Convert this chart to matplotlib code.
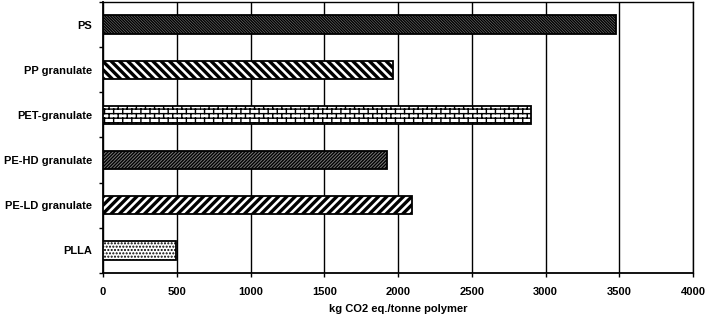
import warnings
import numpy as np
import matplotlib
matplotlib.use('Agg')
import matplotlib.pyplot as plt
import matplotlib.hatch as mhatch
from matplotlib.path import Path

warnings.filterwarnings('ignore')

# data, top to bottom as in the chart
polymers = ['PS', 'PP granulate', 'PET-granulate', 'PE-HD granulate', 'PE-LD granulate', 'PLLA']
co2 = [3480, 1965, 2900, 1925, 2095, 495]
xticks = [0, 500, 1000, 1500, 2000, 2500, 3000, 3500, 4000]


# brick pattern for the PET bar (matplotlib has no brick hatch)
class BrickHatch(mhatch.HatchPatternBase):
    def __init__(self, hatch, density):
        n = hatch.count('b')
        self.rows = 22 * n
        self.cols = 11 * n
        self.num_vertices = (self.rows + self.rows * self.cols) * 2 if n else 0

    def set_vertices_and_codes(self, vertices, codes):
        k = 0
        for i in range(self.rows):
            y0 = i / self.rows
            y1 = (i + 1) / self.rows
            vertices[k] = (0, y0); vertices[k + 1] = (1, y0)
            codes[k] = Path.MOVETO; codes[k + 1] = Path.LINETO
            k += 2
            off = 0.5 * (i % 2)
            for j in range(self.cols):
                x = (j + off) / self.cols
                vertices[k] = (x, y0); vertices[k + 1] = (x, y1)
                codes[k] = Path.MOVETO; codes[k + 1] = Path.LINETO
                k += 2


mhatch._hatch_types.append(BrickHatch)

plt.rcParams['font.family'] = ['Liberation Sans', 'DejaVu Sans']
plt.rcParams['font.weight'] = 'bold'
plt.rcParams['font.size'] = 8

# style per bar: (hatch, facecolor, hatch linewidth)
styles = [
    ('\\' * 12, '#7a7a7a', 1.0),
    ('\\' * 4, 'white', 2.4),
    ('b', 'white', 1.0),
    ('/' * 10, '#7a7a7a', 1.0),
    ('/' * 4, 'white', 2.4),
    ('.' * 5, 'white', 1.0),
]

fig = plt.figure(figsize=(7.08, 3.19), dpi=100)
ax = fig.add_axes([0.1455, 0.144, 0.8335, 0.850])

ypos = np.arange(len(polymers))[::-1]
for y, v, (h, fc, lw) in zip(ypos, co2, styles):
    plt.rcParams['hatch.linewidth'] = lw
    b = ax.barh(y, v, height=0.4, color=fc, edgecolor='black', linewidth=1.3, hatch=h, zorder=3)
    for p in b:
        if hasattr(p, 'set_hatch_linewidth'):
            p.set_hatch_linewidth(lw)

ax.set_xlim(0, 4000)
ax.set_ylim(-0.5, len(polymers) - 0.5)
ax.set_xticks(xticks)
ax.set_xticklabels([str(t) for t in xticks], fontweight='bold')
ax.set_yticks(ypos)
ax.set_yticklabels(polymers, fontweight='bold')
ax.set_yticks(np.arange(len(polymers) + 1) - 0.5, minor=True)
ax.tick_params(axis='y', which='major', length=0, pad=8)
ax.tick_params(axis='y', which='minor', length=3, width=1, direction='out')
ax.tick_params(axis='x', length=3, width=1, direction='out', pad=7)

ax.grid(axis='x', color='black', linewidth=1.0, zorder=0)
ax.set_axisbelow(True)
for s in ['top', 'right']:
    ax.spines[s].set_linewidth(1.0)
for s in ['left', 'bottom']:
    ax.spines[s].set_linewidth(1.3)

ax.set_xlabel('kg CO2 eq./tonne polymer', fontweight='bold', labelpad=5)

fig.savefig('out.png', dpi=100)
